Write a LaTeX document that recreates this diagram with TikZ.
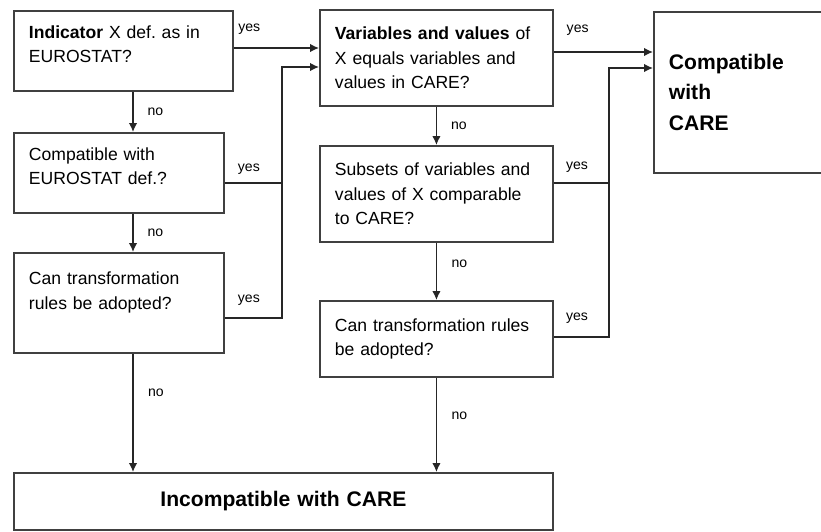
\documentclass[tikz,border=0pt]{standalone}
\usepackage{fontspec}
\setmainfont{Liberation Sans}
\usetikzlibrary{arrows.meta}
\frenchspacing

\begin{document}
\begin{tikzpicture}[x=0.02cm,y=-0.02cm,
  qbox/.style={draw=black!75,line width=1.1pt,anchor=north west,align=left,
    inner xsep=0.3cm,font=\fontsize{10}{14}\selectfont},
  rbox/.style={qbox,font=\fontsize{12}{17.5}\selectfont\bfseries},
  ln/.style={draw=black!85,line width=0.8pt},
  arr/.style={ln,-{Latex[length=1.8mm,width=1.7mm]}},
  lbl/.style={font=\fontsize{8}{9}\selectfont,inner sep=0pt}]
\useasboundingbox (0,0) rectangle (821,531);
\node[qbox,text width=3.78cm,minimum height=1.6cm] (ind) at (13,10) {\textbf{Indicator} X def. as in\\EUROSTAT?\\[-6pt]\mbox{}};
\node[qbox,text width=3.6cm,minimum height=1.6cm] (cmp) at (13,132) {Compatible with\\EUROSTAT def.?\\[-6pt]\mbox{}};
\node[qbox,text width=3.6cm,minimum height=2cm] (trl) at (13,252) {Can transformation\\rules be adopted?\\ \mbox{}};
\node[qbox,text width=4.06cm,minimum height=1.92cm] (var) at (319,9) {\textbf{Variables and values} of\\X equals variables and\\values in CARE?};
\node[qbox,text width=4.06cm,minimum height=1.92cm] (sub) at (319,145) {Subsets of variables and\\values of X comparable\\to CARE?};
\node[qbox,text width=4.06cm,minimum height=1.52cm] (trr) at (319,300) {Can transformation rules\\be adopted?};
\node[rbox,text width=2.94cm,minimum height=3.22cm] (care) at (653,11) {Compatible\\with\\CARE};
\node[rbox,align=center,text width=10.18cm,minimum height=1.14cm] (inc) at (13,472) {Incompatible with CARE};

\coordinate (cl) at (133,0);
\coordinate (ya) at (0,48); \coordinate (yb) at (0,52);
\coordinate (jl1) at (282,67); \coordinate (jl2) at (282,183); \coordinate (jl3) at (282,318);
\coordinate (jr1) at (609,68); \coordinate (jr2) at (609,183); \coordinate (jr3) at (609,337);

\draw[arr] (ind.east |- ya) -- node[lbl,pos=.18,yshift=.38cm] (y1) {yes} (var.west |- ya);
\draw[arr] (var.east |- yb) -- node[lbl,pos=.24,yshift=.44cm] (y4) {yes} (care.west |- yb);
\draw[ln] (cmp.east |- jl2) -- node[lbl,pos=.42,yshift=.28cm] (y2) {yes} (jl2);
\draw[arr] (trl.east |- jl3) -- node[lbl,pos=.42,yshift=.36cm] (y3) {yes} (jl3) -- (jl1) -- (var.west |- jl1);
\draw[ln] (sub.east |- jr2) -- node[lbl,pos=.42,yshift=.32cm] (y5) {yes} (jr2);
\draw[arr] (trr.east |- jr3) -- node[lbl,pos=.42,yshift=.38cm] (y6) {yes} (jr3) -- (jr1) -- (care.west |- jr1);

\draw[arr] (ind.south -| cl) -- node[lbl,xshift=.45cm] (n1) {no} (cmp.north -| cl);
\draw[arr] (cmp.south -| cl) -- node[lbl,xshift=.45cm] (n2) {no} (trl.north -| cl);
\draw[arr] (trl.south -| cl) -- node[lbl,pos=.33,xshift=.46cm] (n3) {no} (inc.north -| cl);
\draw[arr] (var.south) -- node[lbl,xshift=.45cm] (n4) {no} (sub.north);
\draw[arr] (sub.south) -- node[lbl,pos=.36,xshift=.46cm] (n5) {no} (trr.north);
\draw[arr] (trr.south) -- node[lbl,pos=.4,xshift=.46cm] (n6) {no} (inc.north -| trr.south);
\end{tikzpicture}
\end{document}
